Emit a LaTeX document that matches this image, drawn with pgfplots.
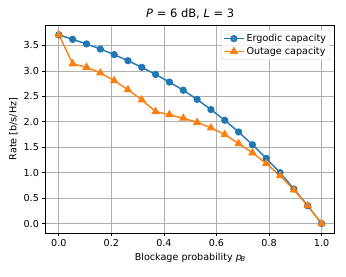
\documentclass[border=0pt]{standalone}
\usepackage{pgfplots}
\pgfplotsset{compat=1.18}
\usepackage{fontspec}
\setmainfont{DejaVu Sans}
\definecolor{c0}{HTML}{1F77B4}
\definecolor{c1}{HTML}{FF7F0E}
\definecolor{gridc}{HTML}{B0B0B0}
\begin{document}
\begin{tikzpicture}
\begin{axis}[
  scale only axis,
  width=289pt, height=208pt,
  xmin=-0.05, xmax=1.05,
  ymin=-0.186, ymax=3.902,
  xtick={0,0.2,0.4,0.6,0.8,1.0},
  ytick={0,0.5,1.0,1.5,2.0,2.5,3.0,3.5},
  xticklabel style={/pgf/number format/.cd,fixed,fixed zerofill,precision=1},
  yticklabel style={/pgf/number format/.cd,fixed,fixed zerofill,precision=1},
  /pgf/number format/assume math mode=true,
  tick label style={font=\fontsize{9.6}{10}\selectfont},
  tick pos=left,
  tick align=outside,
  major tick length=3.3pt,
  tick style={black, line width=0.75pt},
  grid=major,
  grid style={gridc, line width=0.75pt},
  axis line style={black, line width=0.75pt},
  title={\textit{P} = 6 dB, \textit{L} = 3},
  title style={font=\fontsize{11.5}{12}\selectfont, yshift=-3pt},
  xlabel={Blockage probability \textit{p}$_{\!\textit{\fontsize{6.7}{7}\selectfont B}}$},
  ylabel={Rate [b/s/Hz]},
  label style={font=\fontsize{9.6}{10}\selectfont},
  xlabel style={yshift=1pt},
  ylabel style={yshift=-1pt},
  legend style={at={(1,1)}, anchor=north east, xshift=-4.5pt, yshift=-5pt,
    font=\fontsize{9.6}{10}\selectfont, draw=gray!40, rounded corners=2pt,
    fill=white, fill opacity=0.8, text opacity=1, row sep=0pt,
    inner xsep=2pt, inner ysep=2pt},
  legend cell align=left,
  legend image code/.code={\draw[mark repeat=2,mark phase=2] plot coordinates {(0pt,0pt) (10pt,0pt) (20pt,0pt)};},
]
\coordinate (sw) at (rel axis cs:0,0);
\coordinate (ne) at (rel axis cs:1,1);
\addplot[c0, line width=1.4pt, mark=*, mark size=2.9pt, mark options={fill=c0, draw=c0}] coordinates {
(0.00000,3.71) (0.05263,3.62) (0.10526,3.53) (0.15789,3.43) (0.21053,3.32)
(0.26316,3.20) (0.31579,3.07) (0.36842,2.93) (0.42105,2.78) (0.47368,2.62)
(0.52632,2.44) (0.57895,2.24) (0.63158,2.03) (0.68421,1.80) (0.73684,1.55)
(0.78947,1.28) (0.84211,1.00) (0.89474,0.68) (0.94737,0.35) (1.00000,0.00)
};
\addlegendentry{Ergodic capacity}
\addplot[c1, line width=1.4pt, mark=triangle*, mark size=3.6pt, mark options={fill=c1, draw=c1}] coordinates {
(0.00000,3.71) (0.05263,3.14) (0.10526,3.07) (0.15789,2.96) (0.21053,2.81)
(0.26316,2.63) (0.31579,2.43) (0.36842,2.20) (0.42105,2.14) (0.47368,2.07)
(0.52632,1.99) (0.57895,1.88) (0.63158,1.75) (0.68421,1.57) (0.73684,1.39)
(0.78947,1.18) (0.84211,0.94) (0.89474,0.66) (0.94737,0.35) (1.00000,0.00)
};
\addlegendentry{Outage capacity}
\end{axis}
\pgfresetboundingbox
\path (sw) ++(-45.7pt,-43.7pt) rectangle ([shift={(11.3pt,25pt)}]ne);
\end{tikzpicture}
\end{document}
